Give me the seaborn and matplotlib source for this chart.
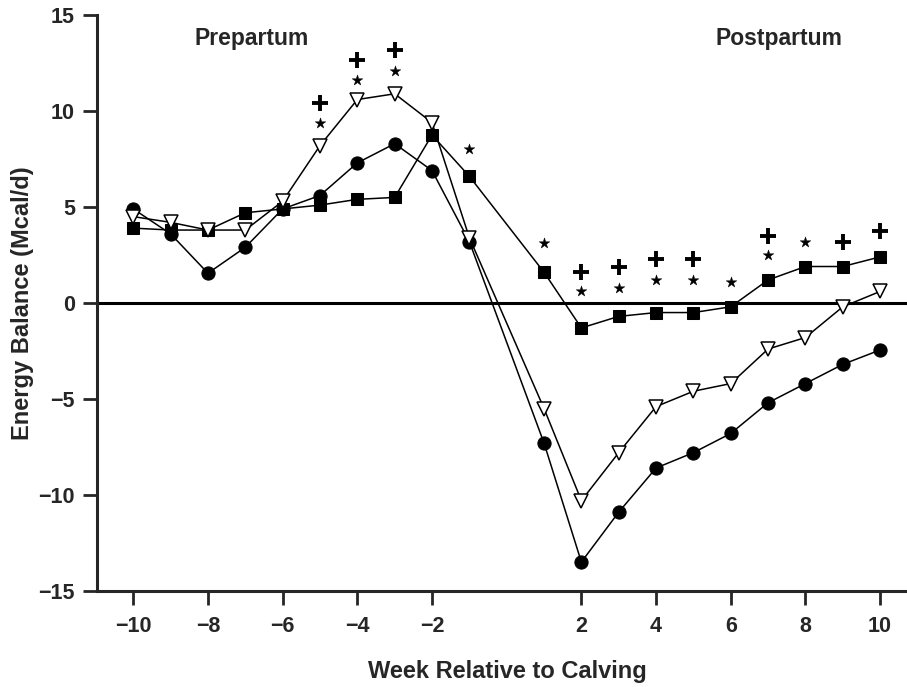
import matplotlib
matplotlib.use("Agg")
import matplotlib.pyplot as plt
import seaborn as sns
import pandas as pd

# ---- data ----
weeks = [-10, -9, -8, -7, -6, -5, -4, -3, -2, -1, 1, 2, 3, 4, 5, 6, 7, 8, 9, 10]
circle_vals = [4.9, 3.6, 1.55, 2.9, 4.9, 5.6, 7.3, 8.3, 6.9, 3.2,
               -7.3, -13.5, -10.9, -8.6, -7.8, -6.8, -5.2, -4.2, -3.2, -2.45]
square_vals = [3.9, 3.8, 3.8, 4.7, 4.9, 5.1, 5.4, 5.5, 8.75, 6.6,
               1.6, -1.3, -0.7, -0.5, -0.5, -0.2, 1.2, 1.9, 1.9, 2.4]
triangle_vals = [4.5, 4.2, 3.8, 3.8, 5.3, 8.2, 10.6, 10.9, 9.4, 3.4,
                 -5.5, -10.3, -7.8, -5.4, -4.6, -4.2, -2.4, -1.8, -0.2, 0.6]

star_weeks = [-5, -4, -3, -1, 1, 2, 3, 4, 5, 6, 7, 8]
star_y = [9.4, 11.6, 12.1, 8.0, 3.1, 0.6, 0.8, 1.2, 1.2, 1.1, 2.5, 3.2]
plus_weeks = [-5, -4, -3, 2, 3, 4, 5, 7, 9, 10]
plus_y = [10.4, 12.65, 13.2, 1.6, 1.9, 2.3, 2.3, 3.5, 3.2, 3.75]

xticks = [-10, -8, -6, -4, -2, 2, 4, 6, 8, 10]
yticks = [-15, -10, -5, 0, 5, 10, 15]

sns.set_style("ticks")
plt.rcParams['font.family'] = ['Liberation Sans', 'DejaVu Sans']
plt.rcParams['font.weight'] = 'bold'

fig = plt.figure(figsize=(9.07, 6.87), dpi=100)
ax = fig.add_axes([0.107, 0.140, 0.893, 0.838])

df = pd.DataFrame({"week": weeks, "circle": circle_vals,
                   "square": square_vals, "triangle": triangle_vals})

ax.axhline(0, color='black', lw=2.2, zorder=1)

sns.lineplot(data=df, x="week", y="circle", ax=ax, color='black', lw=1.1,
             marker='o', markersize=9.5, markerfacecolor='black',
             markeredgecolor='black', zorder=3)
sns.lineplot(data=df, x="week", y="square", ax=ax, color='black', lw=1.1,
             marker='s', markersize=8.5, markerfacecolor='black',
             markeredgecolor='black', zorder=3)
sns.lineplot(data=df, x="week", y="triangle", ax=ax, color='black', lw=1.1,
             marker='v', markersize=10.5, markerfacecolor='white',
             markeredgecolor='black', markeredgewidth=1.1, zorder=4)

sns.scatterplot(x=star_weeks, y=star_y, ax=ax, marker='*', s=65,
                color='black', edgecolor='black', linewidth=0.3, zorder=5)
ax.plot(plus_weeks, plus_y, ls='none', marker='+', ms=11, mew=2.8,
        color='black', zorder=5)

ax.text(-6.83, 13.8, "Prepartum", ha='center', va='center',
        fontsize=16.5, fontweight='bold')
ax.text(7.3, 13.8, "Postpartum", ha='center', va='center',
        fontsize=16.5, fontweight='bold')

ax.set_xlim(-10.97, 10.72)
ax.set_ylim(-15, 15)
ax.set_xticks(xticks)
ax.set_xticklabels([str(t).replace('-', '\u2212') for t in xticks])
ax.set_yticks(yticks)
ax.set_yticklabels([str(t).replace('-', '\u2212') for t in yticks])
ax.tick_params(axis='both', direction='out', length=10, width=2,
               labelsize=15.5)
ax.tick_params(axis='x', pad=8)
ax.tick_params(axis='y', pad=6)
for lbl in ax.get_xticklabels() + ax.get_yticklabels():
    lbl.set_fontweight('bold')

ax.set_xlabel("Week Relative to Calving", fontsize=17, fontweight='bold')
ax.set_ylabel("Energy Balance (Mcal/d)", fontsize=17, fontweight='bold')
ax.xaxis.set_label_coords((507 - 97) / 810, -0.1515)
ax.xaxis.label.set_va('baseline')
ax.yaxis.set_label_coords(-0.0915, 0.5)
ax.yaxis.label.set_va('center')

sns.despine(ax=ax)
ax.spines['left'].set_linewidth(2.2)
ax.spines['bottom'].set_linewidth(2.2)
ax.grid(False)

fig.savefig("out.png", dpi=100)
